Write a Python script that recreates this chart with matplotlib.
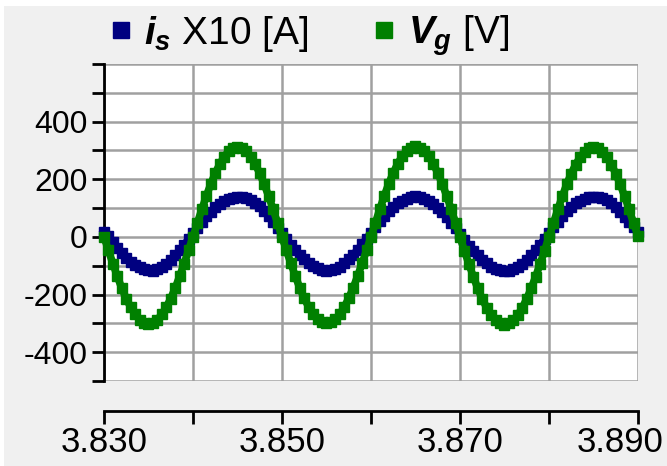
import numpy as np
import matplotlib.pyplot as plt
from matplotlib.lines import Line2D
from matplotlib.patches import Rectangle
from matplotlib.transforms import ScaledTranslation

# time axis (s), sampled every 0.5 ms
t = np.linspace(3.830, 3.890, 121)

# grid current x10 [A]
i_s = [18,
       2, -18, -38, -56, -72, -86, -98, -106, -112, -116,
       -117, -112, -104, -94, -80, -64, -46, -28, -8,
       12,
       32, 52, 71, 88, 103, 115, 124, 131, 135, 138,
       140, 136, 128, 118, 106, 90, 72, 52, 32,
       12,
       -8, -28, -46, -62, -78, -90, -101, -108, -114, -117,
       -116, -112, -103, -92, -78, -62, -44, -26, -6,
       14,
       34, 54, 72, 89, 104, 116, 125, 132, 137, 141,
       138, 133, 125, 114, 102, 86, 68, 49, 30,
       10,
       -10, -30, -48, -64, -80, -92, -103, -110, -115, -118,
       -117, -113, -104, -93, -79, -63, -45, -27, -7,
       13,
       33, 53, 72, 90, 105, 117, 126, 133, 137, 140,
       139, 135, 127, 116, 103, 88, 70, 52, 34,
       16]

# grid voltage [V]
v_g = [0,
       -47, -93, -137, -178, -214, -244, -269, -287, -298, -302,
       -298, -287, -269, -244, -214, -178, -137, -93, -47,
       0,
       49, 96, 142, 183, 221, 252, 278, 297, 308, 312,
       308, 297, 278, 252, 221, 183, 142, 96, 49,
       0,
       -47, -92, -136, -177, -213, -243, -268, -286, -297, -300,
       -297, -286, -268, -243, -213, -177, -136, -92, -47,
       0,
       49, 97, 143, 185, 222, 254, 280, 299, 310, 314,
       310, 299, 280, 254, 222, 185, 143, 97, 49,
       0,
       -48, -94, -138, -179, -215, -246, -271, -289, -300, -304,
       -300, -289, -271, -246, -215, -179, -138, -94, -48,
       0,
       48, 96, 141, 183, 220, 251, 277, 296, 307, 311,
       307, 296, 277, 251, 220, 183, 141, 96, 48,
       4]

x_ticks = [3.830, 3.840, 3.850, 3.860, 3.870, 3.880, 3.890]
x_labels = ["3.830", "", "3.850", "", "3.870", "", "3.890"]
y_ticks = [-500, -400, -300, -200, -100, 0, 100, 200, 300, 400, 500, 600]
y_labels = ["", "-400", "", "-200", "", "0", "", "200", "", "400", "", ""]

labels = [r"$i_s$ X10 [A]", r"$V_g$ [V]"]
colors = ["#000080", "#008000"]

plt.rcParams["font.family"] = "Liberation Sans"
plt.rcParams["mathtext.fontset"] = "custom"
plt.rcParams["mathtext.it"] = "Liberation Sans:italic:bold"
plt.rcParams["mathtext.rm"] = "Liberation Sans"

fig = plt.figure(figsize=(6.67, 4.66), dpi=100, facecolor="white")
fig.patches.append(Rectangle((4 / 667, 0), 1, 1 - 6 / 466, transform=fig.transFigure,
                             facecolor="#f0f0f0", edgecolor="none", zorder=-10))

ax = fig.add_axes([104 / 667, 1 - 381 / 466, 534 / 667, 317 / 466])
ax.set_facecolor("white")

ax.plot(t, i_s, color=colors[0], lw=5.5, marker="s", ms=6.5, zorder=3, clip_on=False)
ax.plot(t, v_g, color=colors[1], lw=5.5, marker="s", ms=6.5, zorder=4, clip_on=False)

ax.set_xlim(3.830, 3.890)
ax.set_ylim(-500, 600)
ax.set_xticks(x_ticks)
ax.set_xticklabels(x_labels)
ax.set_yticks(y_ticks)
ax.set_yticklabels(y_labels)

ax.grid(True, color="#a0a0a0", lw=1.8, zorder=0)
ax.set_axisbelow(True)

for side in ["top", "right"]:
    ax.spines[side].set_visible(False)
ax.spines["left"].set_linewidth(2)
ax.spines["bottom"].set_linewidth(2)
ax.spines["bottom"].set_position(("outward", 21.5))

ax.tick_params(axis="both", direction="out", length=9, width=2, colors="black", pad=3)
ax.tick_params(axis="x", labelsize=25, pad=2)
ax.tick_params(axis="y", labelsize=23)

# last x label is pushed left so it stays inside the figure, like in the source
last = ax.get_xticklabels()[-1]
last.set_transform(last.get_transform() + ScaledTranslation(-0.18, 0, fig.dpi_scale_trans))

handles = [Line2D([], [], color=c, marker="s", ls="none", ms=12) for c in colors]
fig.legend(handles, labels, loc="center left", bbox_to_anchor=(111 / 667, 1 - 36 / 466),
           ncol=2, frameon=False, fontsize=28, handlelength=0.5, handletextpad=0.35,
           columnspacing=1.7, borderaxespad=0, borderpad=0)

fig.savefig("out.png", dpi=100, facecolor=fig.get_facecolor())
